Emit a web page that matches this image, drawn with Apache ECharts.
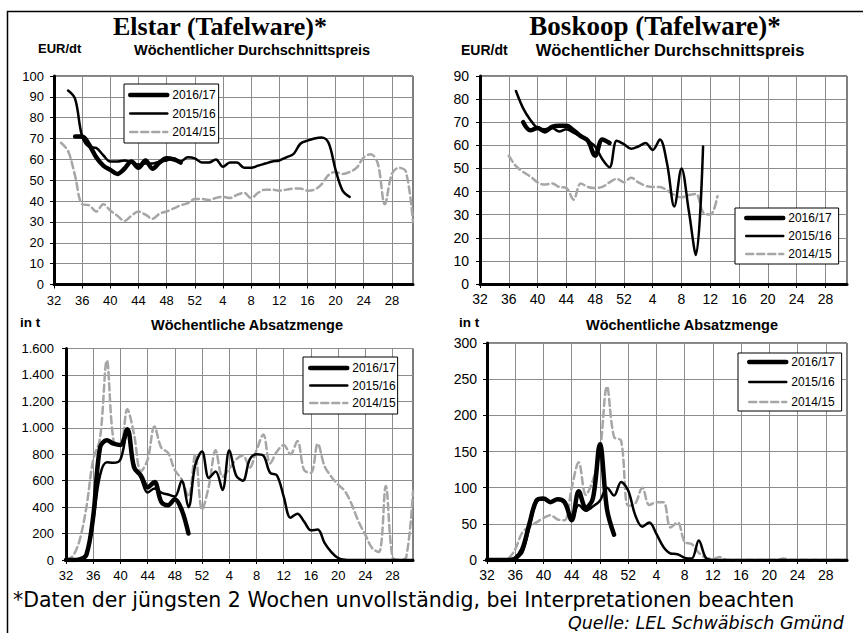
<!DOCTYPE html>
<html><head><meta charset="utf-8">
<script src="https://cdn.jsdelivr.net/npm/echarts@6/dist/echarts.min.js"></script>
<style>html,body{margin:0;padding:0;background:#fff}#c{width:863px;height:633px}</style>
</head><body><div id="c"></div><script>
const N = null;
// x axis: calendar weeks from week 32 to week 31 of the following year
const weeks = [32,33,34,35,36,37,38,39,40,41,42,43,44,45,46,47,48,49,50,51,52,1,2,3,4,5,6,7,8,9,10,11,12,13,14,15,16,17,18,19,20,21,22,23,24,25,26,27,28,29,30,31];
const seasons = ['2016/17','2015/16','2014/15'];

// Elstar – Wöchentlicher Durchschnittspreis (EUR/dt)
const elstarPrice1617 = [N,N,N,71,71,67,61,57,55,53,55.5,59,56,59.5,55.5,58.5,60.5,60,58.5];
const elstarPrice1516 = [N,N,93,89,71,66,65.5,62,59,59,59.5,58.5,57.5,58,58,59,59.5,60.5,59,61,60.5,58.5,58.5,60,56.5,58.5,58.5,56,56,57,58,59,59.5,61,62.5,67.5,69,70,70.5,68,55,45,42];
const elstarPrice1415 = [N,68,64,52,38.5,38,35,38.5,35.5,33,30.5,33,35,33.5,31.5,34,35,36.5,38,39,41,41,40.5,41.5,42,41.5,43,44,41.5,44,45.5,45.5,45,45.5,46,46,45,45.5,48,52.5,54,53,54,56,61,62.5,58,38.5,53,56,54,30];

// Boskoop – Wöchentlicher Durchschnittspreis (EUR/dt)
const boskPrice1617 = [N,N,N,N,N,N,70,66.5,67.5,66,68,68.5,68.5,66.5,64,62,55.5,62.5,61];
const boskPrice1516 = [N,N,N,N,N,83.5,76,71,67.5,67,67.5,66,67,65.5,64,62,59.5,54,50.5,62,60.5,58.5,59.5,61,58,62.5,52,33.5,50,32,12.5,59.5];
const boskPrice1415 = [N,N,N,N,55.5,51,48.5,46.5,44,43,43.5,42,41.5,36.5,43.5,42,41.5,42,44,45.5,44,46,44,42.5,42,42,40.5,38.5,37.5,38.5,39,31,30,38];

// Elstar – Wöchentliche Absatzmenge (t)
const elstarVol1617 = [0,0,5,40,330,850,905,880,870,990,700,640,550,590,440,415,460,380,200];
const elstarVol1516 = [0,0,0,40,300,640,740,735,760,960,720,620,510,540,510,495,480,600,400,720,820,620,670,530,830,640,600,760,800,790,660,640,480,320,350,290,225,230,130,60,15,2,0,0,0,0,0,0,0,0,0,0];
const elstarVol1415 = [0,30,150,400,760,920,1510,900,870,1140,950,670,760,1010,850,810,680,610,480,800,380,560,830,630,690,760,790,700,830,950,730,820,870,800,900,680,660,880,710,630,570,520,420,290,190,90,60,560,20,0,20,520];

// Boskoop – Wöchentliche Absatzmenge (t)
const boskVol1617 = [0,0,0,0,2,15,50,82,85,80,84,80,55,95,72,85,160,70,35];
const boskVol1516 = [0,0,0,0,3,10,45,80,84,80,84,78,56,76,68,74,82,100,89,108,96,62,46,52,36,18,9,8,3,2,27,3,0,0,0,0,0,0,0,0,0,0,0,0,0,0,0,0,0,0,0,0];
const boskVol1415 = [0,0,0,2,15,38,46,52,58,62,56,55,100,135,90,110,150,240,170,165,75,78,100,76,80,80,45,52,25,22,10,3,2,4,0,0,0,0,0,0,0,0,2,0,0,0,0,0,0,0,0,0];

const FONT = 'Liberation Sans';
const styles = {
  '2016/17': {color:'#000', width:4.5, type:'solid', z:5},
  '2015/16': {color:'#000', width:2.5, type:'solid', z:4},
  '2014/15': {color:'#a6a6a6', width:2.5, type:[7,4], z:3}
};

const panels = [
  {grid:{left:54, top:76, width:359, height:208.5}, yMax:100, yInt:10, fs:13, yMargin:10, xMargin:9,
   legend:{left:124, top:84, padding:[5,3,5,4], itemGap:6.5},
   data:{'2016/17':elstarPrice1617,'2015/16':elstarPrice1516,'2014/15':elstarPrice1415}},
  {grid:{left:480, top:76, width:367, height:208}, yMax:90, yInt:10, fs:14, yMargin:11, xMargin:8,
   legend:{left:735, top:208, padding:[4,7,4,9], itemGap:6},
   data:{'2016/17':boskPrice1617,'2015/16':boskPrice1516,'2014/15':boskPrice1415}},
  {grid:{left:66, top:348.5, width:347, height:211.5}, yMax:1600, yInt:200, fs:13, yMargin:12, xMargin:9,
   legend:{left:303, top:357, padding:[5,2,5,5], itemGap:5.5},
   data:{'2016/17':elstarVol1617,'2015/16':elstarVol1516,'2014/15':elstarVol1415}},
  {grid:{left:487, top:343, width:360, height:217}, yMax:300, yInt:50, fs:14, yMargin:10, xMargin:8,
   legend:{left:738, top:353, padding:[3,7,3,9], itemGap:8},
   data:{'2016/17':boskVol1617,'2015/16':boskVol1516,'2014/15':boskVol1415}}
];

function fmtDE(v){ return String(v).replace(/\B(?=(\d{3})+(?!\d))/g, '.'); }

const grid = [], xAxis = [], yAxis = [], series = [], legend = [];
panels.forEach((p, i) => {
  grid.push(Object.assign({show:true, borderColor:'#000', borderWidth:1, backgroundColor:'transparent', containLabel:false}, p.grid));
  xAxis.push({type:'category', gridIndex:i, data:weeks, boundaryGap:false,
    axisLine:{onZero:false, lineStyle:{color:'#000', width:3}},
    axisTick:{show:true, interval:3, length:4, lineStyle:{color:'#000', width:1}},
    axisLabel:{interval:3, color:'#000', fontSize:p.fs, fontFamily:FONT, margin:p.xMargin, hideOverlap:false},
    splitLine:{show:true, interval:3, lineStyle:{color:'#8c8c8c', width:1}}});
  yAxis.push({type:'value', gridIndex:i, min:0, max:p.yMax, interval:p.yInt,
    axisLine:{show:true, lineStyle:{color:'#000', width:3}},
    axisTick:{show:true, length:4, lineStyle:{color:'#000', width:1}},
    axisLabel:{color:'#000', fontSize:p.fs, fontFamily:FONT, margin:p.yMargin, formatter:fmtDE},
    splitLine:{show:true, lineStyle:{color:'#8c8c8c', width:1}}});
  ['2014/15','2015/16','2016/17'].forEach(name => {
    const s = styles[name];
    series.push({type:'line', name, xAxisIndex:i, yAxisIndex:i, data:p.data[name],
      smooth:0.35, symbol:'none', showSymbol:false, connectNulls:false, z:s.z,
      lineStyle:{color:s.color, width:s.width, type:s.type, cap:'round', join:'round'},
      itemStyle:{color:s.color}, emphasis:{disabled:true}});
  });
  legend.push(Object.assign({orient:'vertical', data:seasons, selectedMode:false,
    itemWidth:37, itemHeight:14, borderColor:'#000', borderWidth:1, backgroundColor:'#fff',
    textStyle:{color:'#000', fontSize:12, fontFamily:FONT},
    lineStyle:{width:'inherit'}, itemStyle:{opacity:0}}, p.legend));
});

const T = (text, x, y, font, extra) => Object.assign({type:'text', x, y, silent:true,
  style:Object.assign({text, fill:'#000', font, textAlign:'center', textVerticalAlign:'middle'}, extra||{})});

const graphic = [
  {type:'rect', left:5, top:9, shape:{x:0, y:0, width:900, height:700}, style:{fill:'none', stroke:'#000', lineWidth:1.5}, silent:true, z:-10},
  T('Elstar (Tafelware)*', 220, 26, 'bold 26px "Liberation Serif"'),
  T('Boskoop (Tafelware)*', 655, 26, 'bold 27px "Liberation Serif"'),
  T('EUR/dt', 38, 48, 'bold 13px "Liberation Sans"', {textAlign:'left'}),
  T('Wöchentlicher Durchschnittspreis', 252, 50, 'bold 14.5px "Liberation Sans"'),
  T('EUR/dt', 461, 50, 'bold 14px "Liberation Sans"', {textAlign:'left'}),
  T('Wöchentlicher Durchschnittspreis', 670, 50, 'bold 16.5px "Liberation Sans"'),
  T('in t', 20, 322, 'bold 13.5px "Liberation Sans"', {textAlign:'left'}),
  T('Wöchentliche Absatzmenge', 247, 325, 'bold 14.5px "Liberation Sans"'),
  T('in t', 459, 322, 'bold 13.5px "Liberation Sans"', {textAlign:'left'}),
  T('Wöchentliche Absatzmenge', 682, 325, 'bold 14.5px "Liberation Sans"'),
  T('*Daten der jüngsten 2 Wochen unvollständig, bei Interpretationen beachten', 13, 600, '20.5px "DejaVu Sans"', {textAlign:'left'}),
  T('Quelle: LEL Schwäbisch Gmünd', 568, 623, 'italic 17.5px "DejaVu Sans"', {textAlign:'left'})
];

const chart = echarts.init(document.getElementById('c'), null, {renderer:'svg'});
chart.setOption({animation:false, backgroundColor:'#fff', grid, xAxis, yAxis, series, legend, graphic});
</script></body></html>
